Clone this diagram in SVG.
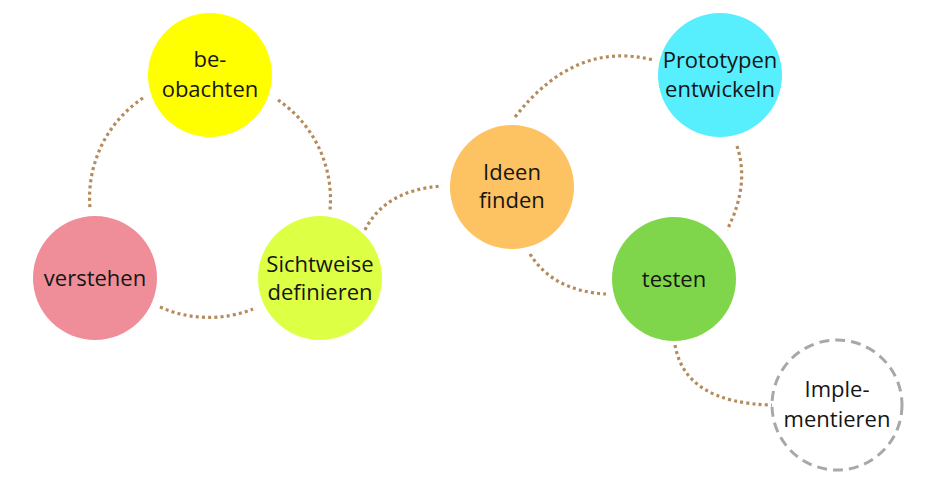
<svg xmlns="http://www.w3.org/2000/svg" width="944" height="480" viewBox="0 0 944 480">
<style>
.conn{fill:none;stroke:#b58b5c;stroke-width:3.2;stroke-dasharray:3 3.2}
.lbl{font-family:"Open Sans","Noto Sans",sans-serif;font-size:22px;fill:#151515;text-anchor:middle}
</style>
<rect width="944" height="480" fill="#fff"/>
<g id="connectors">
<path class="conn" d="M143,98 A120,120 0 0 0 90,208"/>
<path class="conn" d="M278,100 A120,120 0 0 1 330,210"/>
<path class="conn" d="M160,307 A120,120 0 0 0 253,309"/>
<path class="conn" d="M365,230 Q385,190 442,186"/>
<path class="conn" d="M530,254 Q553,291 606,294"/>
<path class="conn" d="M515,117 Q575,40 653,60"/>
<path class="conn" d="M737,146 Q750,185 727,230"/>
<path class="conn" d="M675,345 Q685,403 772,405"/>
</g>
<g id="beobachten"><circle cx="210" cy="75" r="62" fill="#ffff00"/><text class="lbl" x="210" y="67">be-</text><text class="lbl" x="210" y="97">obachten</text></g>
<g id="verstehen"><circle cx="95" cy="278" r="62" fill="#ef8e99"/><text class="lbl" x="95" y="286">verstehen</text></g>
<g id="sichtweise"><circle cx="320" cy="278" r="62" fill="#ddff44"/><text class="lbl" x="320" y="272">Sichtweise</text><text class="lbl" x="320" y="300">definieren</text></g>
<g id="ideen"><circle cx="512" cy="187" r="62" fill="#fdc262"/><text class="lbl" x="512" y="180">Ideen</text><text class="lbl" x="512" y="208">finden</text></g>
<g id="prototypen"><circle cx="720" cy="75" r="62" fill="#57eefe"/><text class="lbl" x="720" y="68">Prototypen</text><text class="lbl" x="720" y="97">entwickeln</text></g>
<g id="testen"><circle cx="674" cy="279" r="62" fill="#80d64b"/><text class="lbl" x="674" y="287">testen</text></g>
<g id="implementieren"><circle cx="837" cy="405" r="65" fill="#fff" stroke="#a8a8a8" stroke-width="3" stroke-dasharray="10 6"/><text class="lbl" x="837" y="397">Imple-</text><text class="lbl" x="837" y="427">mentieren</text></g>
</svg>
